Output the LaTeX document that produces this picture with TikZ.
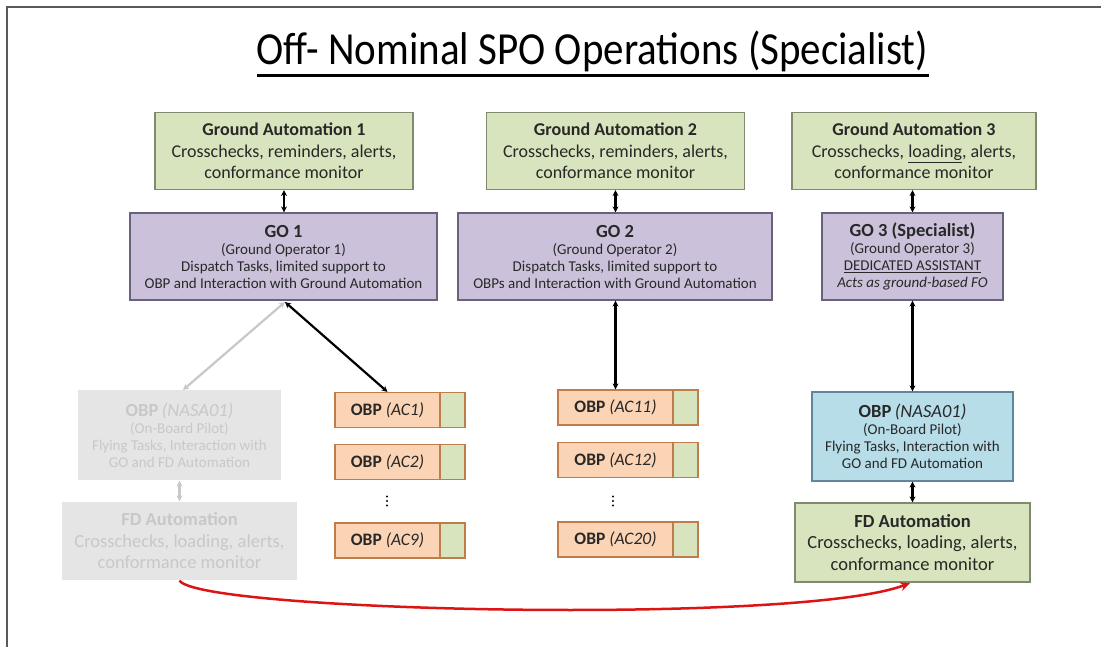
\documentclass[tikz,border=0pt]{standalone}
\usepackage{fontspec}
\setmainfont{Carlito}
\usetikzlibrary{arrows.meta}
\definecolor{gafill}{RGB}{215,228,189}
\definecolor{gadraw}{RGB}{128,138,110}
\definecolor{gofill}{RGB}{204,193,218}
\definecolor{godraw}{RGB}{105,98,125}
\definecolor{obfill}{RGB}{250,212,180}
\definecolor{obdraw}{RGB}{190,125,75}
\definecolor{bluefill}{RGB}{183,221,232}
\definecolor{bluedraw}{RGB}{95,135,155}
\definecolor{fadefill}{RGB}{229,229,229}
\definecolor{fadetext}{RGB}{200,200,200}
\definecolor{txt}{RGB}{40,40,40}
\definecolor{framec}{RGB}{90,90,90}
\definecolor{redc}{RGB}{220,20,20}
\tikzset{
  box/.style={draw, line width=1.2pt, align=center, inner sep=0pt, text=txt},
  gabox/.style={box, fill=gafill, draw=gadraw, minimum height=77pt, font=\fontsize{18}{21.5}\selectfont},
  gobox/.style={box, fill=gofill, draw=godraw, minimum height=87pt, font=\fontsize{15}{17}\selectfont},
  fadebox/.style={box, fill=fadefill, draw=none, text=fadetext},
  obbox/.style={box, fill=obfill, draw=obdraw, minimum height=35pt, font=\fontsize{17.5}{20}\selectfont},
  obgreen/.style={box, fill=gafill, draw=obdraw, minimum width=25pt, minimum height=35pt},
  tips/.style={{Stealth[length=6pt,width=6pt]}-{Stealth[length=6pt,width=6pt]}},
  dbl/.style={tips, line width=2.2pt, black},
  fadearrow/.style={tips, line width=2.2pt, fadetext},
  dotc/.style={fill=black},
}
\newcommand{\boxhead}[1]{{\fontsize{18.5}{21}\selectfont\bfseries #1}}
\begin{document}
\begin{tikzpicture}[x=1pt,y=-1pt]
\useasboundingbox (0,0) rectangle (1101,647);
\fill[white] (0,0) rectangle (1101,647);
\draw[framec, line width=1.5pt] (7,647) -- (7,7) -- (1101,7);

% title
\node[text=black, inner sep=0pt] (title) at (592.5,51) {\scalebox{1}[1.12]{\fontsize{41}{46}\selectfont Off- Nominal SPO Operations (Specialist)}};
\draw[line width=2.5pt] ([yshift=-4pt]title.south west) -- ([yshift=-4pt]title.south east);

% ground automation
\node[gabox, minimum width=258pt] (ga1) at (284,151) {\textbf{Ground Automation 1}\\Crosschecks, reminders, alerts,\\conformance monitor};
\node[gabox, minimum width=258pt] (ga2) at (615.5,151) {\textbf{Ground Automation 2}\\Crosschecks, reminders, alerts,\\conformance monitor};
\node[gabox, minimum width=244pt] (ga3) at (914,151) {\textbf{Ground Automation 3}\\Crosschecks, \underline{loading}, alerts,\\conformance monitor};

% GO
\node[gobox, minimum width=307pt] (go1) at (283.5,256.5) {\boxhead{GO 1}\\(Ground Operator 1)\\Dispatch Tasks, limited support to\\OBP and Interaction with Ground Automation};
\node[gobox, minimum width=314pt] (go2) at (615,256.5) {\boxhead{GO 2}\\(Ground Operator 2)\\Dispatch Tasks, limited support to\\OBPs and Interaction with Ground Automation};
\node[gobox, minimum width=181pt] (go3) at (912.5,256.5) {\boxhead{GO 3 (Specialist)}\\(Ground Operator 3)\\\underline{DEDICATED ASSISTANT}\\\textit{Acts as ground-based FO}};

\draw[dbl] (ga1.south) -- (ga1.south |- go1.north);
\draw[dbl] (ga2.south) -- (ga2.south |- go2.north);
\draw[dbl] (go3.north |- ga3.south) -- (go3.north);

% faded left column
\node[fadebox, minimum width=203pt, minimum height=90pt, font=\fontsize{15}{17}\selectfont] (fobp) at (179.5,435) {\boxhead{OBP} {\fontsize{18.5}{21}\selectfont\itshape(NASA01)}\\(On-Board Pilot)\\Flying Tasks, Interaction with\\GO and FD Automation};
\node[fadebox, minimum width=235pt, minimum height=78pt, font=\fontsize{18.5}{21.5}\selectfont] (ffd) at (179.5,541) {\textbf{FD Automation}\\Crosschecks, loading, alerts,\\conformance monitor};
\draw[fadearrow] (fobp.south) -- (fobp.south |- ffd.north);

% OBP AC column 1
\node[obbox, minimum width=105pt] (ac1) at (387.5,410) {\textbf{OBP} \textit{(AC1)}};
\node[obgreen] (ac1g) at (452.5,410) {};
\node[obbox, minimum width=105pt] (ac2) at (387.5,462) {\textbf{OBP} \textit{(AC2)}};
\node[obgreen] (ac2g) at (452.5,462) {};
\node[obbox, minimum width=105pt] (ac9) at (387.5,540.5) {\textbf{OBP} \textit{(AC9)}};
\node[obgreen] (ac9g) at (452.5,540.5) {};
\foreach \yy in {496.5,501,505.5} \fill[dotc] (387,\yy) circle (1.2pt);

% OBP AC column 2
\node[obbox, minimum width=115pt] (ac11) at (615.5,407.5) {\textbf{OBP} \textit{(AC11)}};
\node[obgreen] (ac11g) at (685.5,407.5) {};
\node[obbox, minimum width=115pt] (ac12) at (615.5,460) {\textbf{OBP} \textit{(AC12)}};
\node[obgreen] (ac12g) at (685.5,460) {};
\node[obbox, minimum width=115pt] (ac20) at (615.5,539.5) {\textbf{OBP} \textit{(AC20)}};
\node[obgreen] (ac20g) at (685.5,539.5) {};
\foreach \yy in {496.5,501,505.5} \fill[dotc] (613,\yy) circle (1.2pt);

% right column
\node[box, fill=bluefill, draw=bluedraw, minimum width=201pt, minimum height=89pt, font=\fontsize{15}{17}\selectfont] (nasa) at (912.5,436.5) {\boxhead{OBP} {\fontsize{18.5}{21}\selectfont\itshape(NASA01)}\\(On-Board Pilot)\\Flying Tasks, Interaction with\\GO and FD Automation};
\node[gabox, minimum width=235pt, minimum height=79pt, font=\fontsize{18.5}{21.5}\selectfont] (fdr) at (912.5,542.5) {\textbf{FD Automation}\\Crosschecks, loading, alerts,\\conformance monitor};

% connectors
\coordinate (go1b) at (285,302);
\draw[fadearrow] (go1b) -- (183,390);
\draw[dbl] (go1b) -- (ac1.north);
\draw[dbl] (go2.south -| ac11.north) -- (ac11.north);
\draw[dbl] (go3.south) -- (nasa.north);
\draw[dbl] (nasa.south) -- (fdr.north);

% red curve
\draw[redc, line width=2.5pt, -{Stealth[length=10pt,width=9pt]}] (ffd.south) .. controls (200,612) and (800,625) .. (910,583);
\end{tikzpicture}
\end{document}
